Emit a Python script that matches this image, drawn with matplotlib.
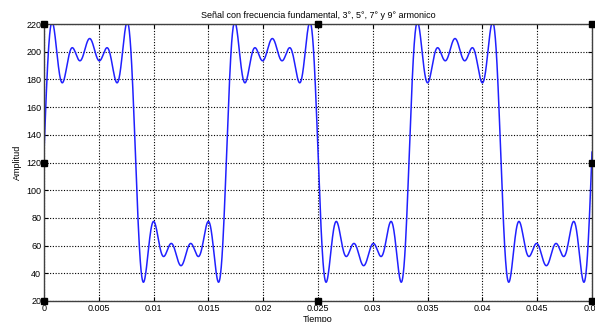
import numpy as np
import matplotlib
matplotlib.use('Agg')
import matplotlib.pyplot as plt

# senal: componente continua + armonicos impares (amplitudes)
f0 = 60.0
offset = 127.5
harmonics = [1, 3, 5, 7, 9]
amplitudes = [89.0, 26.3, 23.4, 19.3, 15.2]

xticks = [0, 0.005, 0.01, 0.015, 0.02, 0.025, 0.03, 0.035, 0.04, 0.045, 0.05]
xlabels = ['0', '0.005', '0.01', '0.015', '0.02', '0.025', '0.03', '0.035',
           '0.04', '0.045', '0.05']
yticks = [20, 40, 60, 80, 100, 120, 140, 160, 180, 200, 220]

t = np.linspace(0, 0.05, 3000)
y = offset + sum(a * np.sin(2 * np.pi * n * f0 * t)
                 for n, a in zip(harmonics, amplitudes))

plt.rcParams['font.family'] = ['Liberation Sans', 'DejaVu Sans']

fig = plt.figure(figsize=(5.95, 3.22), dpi=100)
ax = fig.add_axes([44 / 595, 1 - 301 / 322, 548 / 595, 277 / 322])

ax.plot(t, y, color='#2020ff', lw=1.1)
ax.set_xlim(0, 0.05)
ax.set_ylim(20, 220)
ax.set_xticks(xticks)
ax.set_xticklabels(xlabels)
ax.set_yticks(yticks)
ax.grid(True, color='black', ls=(0, (1, 1.5)), lw=0.8)
ax.tick_params(direction='in', length=3, labelsize=6.5, top=True, right=True,
               pad=2, colors='black')
for s in ax.spines.values():
    s.set_color('#404040')
    s.set_linewidth(1.0)

ax.set_title('Señal con frecuencia fundamental, 3°, 5°, 7° y 9° armonico',
             fontsize=6.5, pad=4)
ax.set_xlabel('Tiempo', fontsize=6.5, labelpad=1.5)
ax.set_ylabel('Amplitud', fontsize=6.5, labelpad=3)

# manejadores de seleccion (modo edicion)
hx = [0, 0.5, 1, 0, 1, 0, 0.5, 1]
hy = [1, 1, 1, 0.5, 0.5, 0, 0, 0]
ax.plot(hx, hy, 's', color='black', ms=4, transform=ax.transAxes,
        clip_on=False, zorder=5)

fig.savefig('out.png', dpi=100)
